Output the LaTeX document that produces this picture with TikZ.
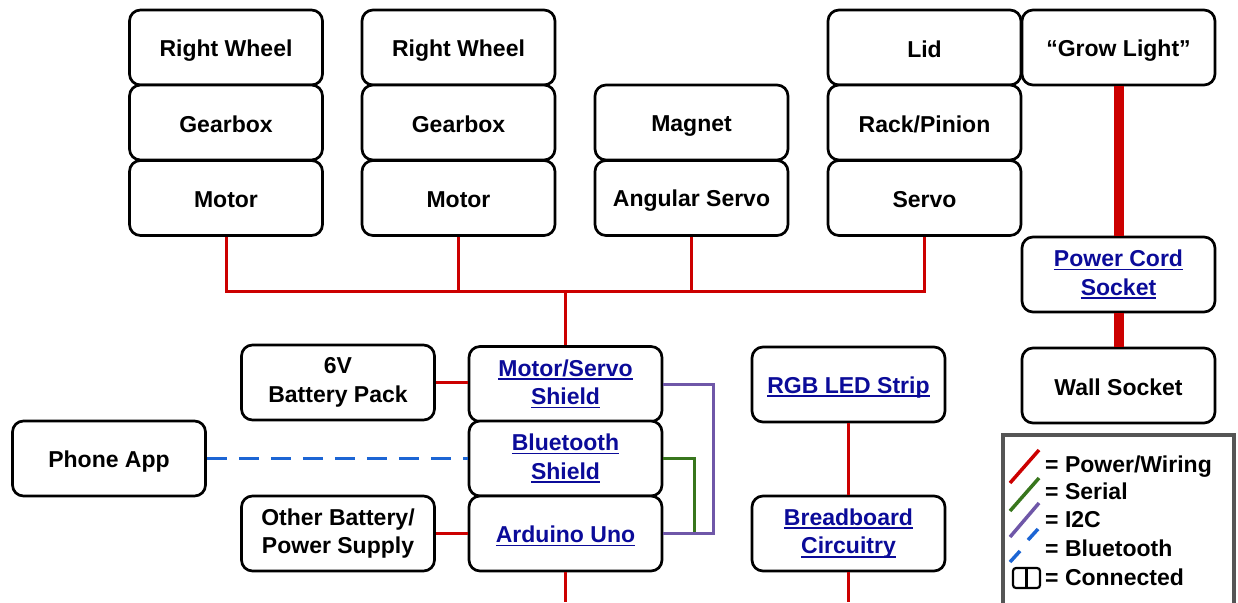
\documentclass[tikz,border=0pt]{standalone}
\usepackage{fontspec}
\setmainfont{Liberation Sans}
\definecolor{linkblue}{HTML}{0B0B99}
\definecolor{wirered}{HTML}{CC0000}
\definecolor{serialgreen}{HTML}{38761D}
\definecolor{i2cpurple}{HTML}{6F57A8}
\definecolor{btblue}{HTML}{1C65D4}
\definecolor{legendgray}{HTML}{555555}
% underlined link text
\newcommand{\lnk}[1]{\textcolor{linkblue}{\setbox0\hbox{#1}\rlap{\rule[-3.8pt]{\wd0}{1.8pt}}\box0}}
\tikzset{
  part/.style={draw=black, line width=2.7pt, rounded corners=11pt, fill=white,
    minimum width=193pt, minimum height=75pt, align=center,
    font=\fontsize{23}{28.5}\selectfont\bfseries, inner sep=0pt,
    execute at begin node={\rule{0pt}{22pt}},
    execute at end node={\rule[-3pt]{0pt}{3pt}}},
  pw/.style={draw=wirered, line width=3pt},
  thickpw/.style={draw=wirered, line width=10pt},
  serial/.style={draw=serialgreen, line width=3pt},
  i2c/.style={draw=i2cpurple, line width=3pt},
  bt/.style={draw=btblue, line width=3pt, dash pattern=on 20pt off 12pt},
  legtext/.style={anchor=base west, font=\fontsize{23}{27}\selectfont\bfseries, inner sep=0pt}
}
\begin{document}
\begin{tikzpicture}[x=1pt, y=-1pt]
\useasboundingbox (0,0) rectangle (1238,602);

% free ends and corners of the wiring
\coordinate (bus) at (565.5,291);
\coordinate (i2cR) at (713,533.5);
\coordinate (serR) at (694,533.5);
\coordinate (auEnd) at (565.5,602);
\coordinate (bbEnd) at (848.5,602);

% top row of parts
\node[part] (w1) at (226,47.5) {Right Wheel};
\node[part] (g1) at (226,122.5) {Gearbox};
\node[part] (m1) at (226,198) {Motor};
\node[part] (w2) at (458.5,47.5) {Right Wheel};
\node[part] (g2) at (458.5,122.5) {Gearbox};
\node[part] (m2) at (458.5,198) {Motor};
\node[part] (mag) at (691.5,122.5) {Magnet};
\node[part] (asv) at (691.5,198) {Angular Servo};
\node[part] (lid) at (924.5,47.5) {Lid};
\node[part] (rp) at (924.5,122.5) {Rack/Pinion};
\node[part] (sv) at (924.5,198) {Servo};
\node[part] (grow) at (1118.5,47.5) {“Grow Light”};
\node[part] (pcs) at (1118.5,274.5) {\lnk{Power Cord}\\\lnk{Socket}};
\node[part] (wall) at (1118.5,385.5) {Wall Socket};

% control stack
\node[part] (ms) at (565.5,384) {\lnk{Motor/Servo}\\\lnk{Shield}};
\node[part] (bts) at (565.5,458.5) {\lnk{Bluetooth}\\\lnk{Shield}};
\node[part] (au) at (565.5,533.5) {\lnk{Arduino Uno}};
\node[part] (bat) at (338,382.5) {6V\\Battery Pack};
\node[part] (app) at (109,458.5) {Phone App};
\node[part] (obat) at (338,533.5) {Other Battery/\\Power Supply};
\node[part] (rgb) at (848.5,384.5) {\lnk{RGB LED Strip}};
\node[part] (bb) at (848.5,533.5) {\lnk{Breadboard}\\\lnk{Circuitry}};

% wiring
\draw[pw] (m1.south) |- (bus) -| (sv.south);
\draw[pw] (m2.south) -- (m2.south |- bus);
\draw[pw] (asv.south) -- (asv.south |- bus);
\draw[pw] (bus) -- (ms.north);
\draw[pw] (au.south) -- (auEnd);
\draw[pw] (bat.east) -- (bat.east -| ms.west);
\draw[pw] (obat.east) -- (au.west);
\draw[pw] (rgb.south) -- (bb.north);
\draw[pw] (bb.south) -- (bbEnd);
\draw[thickpw] (grow.south) -- (pcs.north);
\draw[thickpw] (pcs.south) -- (wall.north);
\draw[bt] (app.east) -- (bts.west);
\draw[serial] (bts.east) -| (serR) -- (au.east);
\draw[i2c] (ms.east) -| (i2cR) -- (au.east);

% legend
\draw[legendgray, line width=4pt] (1003,435) rectangle (1234,612);
\coordinate (lr1) at (1010,483); \coordinate (lr2) at (1039,450);
\coordinate (lg1) at (1010,511); \coordinate (lg2) at (1039,478);
\coordinate (lp1) at (1010,537); \coordinate (lp2) at (1039,503);
\draw[pw, line width=3.5pt] (lr1) -- (lr2);
\draw[serial, line width=3.5pt] (lg1) -- (lg2);
\draw[i2c, line width=3.5pt] (lp1) -- (lp2);
\coordinate (lb1) at (1010,562); \coordinate (lb2) at (1020,551);
\coordinate (lb3) at (1028,540); \coordinate (lb4) at (1038,529);
\draw[btblue, line width=3.5pt] (lb1) -- (lb2) (lb3) -- (lb4);
\draw[black, line width=2.2pt, rounded corners=3pt] (1013,568) rectangle (1040,588);
\draw[black, line width=2.2pt] (1026.5,568) -- (1026.5,588);
\node[legtext] (l1) at (1045,472) {= Power/Wiring};
\node[legtext] (l2) at (1045,499) {= Serial};
\node[legtext] (l3) at (1045,527) {= I2C};
\node[legtext] (l4) at (1045,556) {= Bluetooth};
\node[legtext] (l5) at (1045,585) {= Connected};
\end{tikzpicture}
\end{document}
